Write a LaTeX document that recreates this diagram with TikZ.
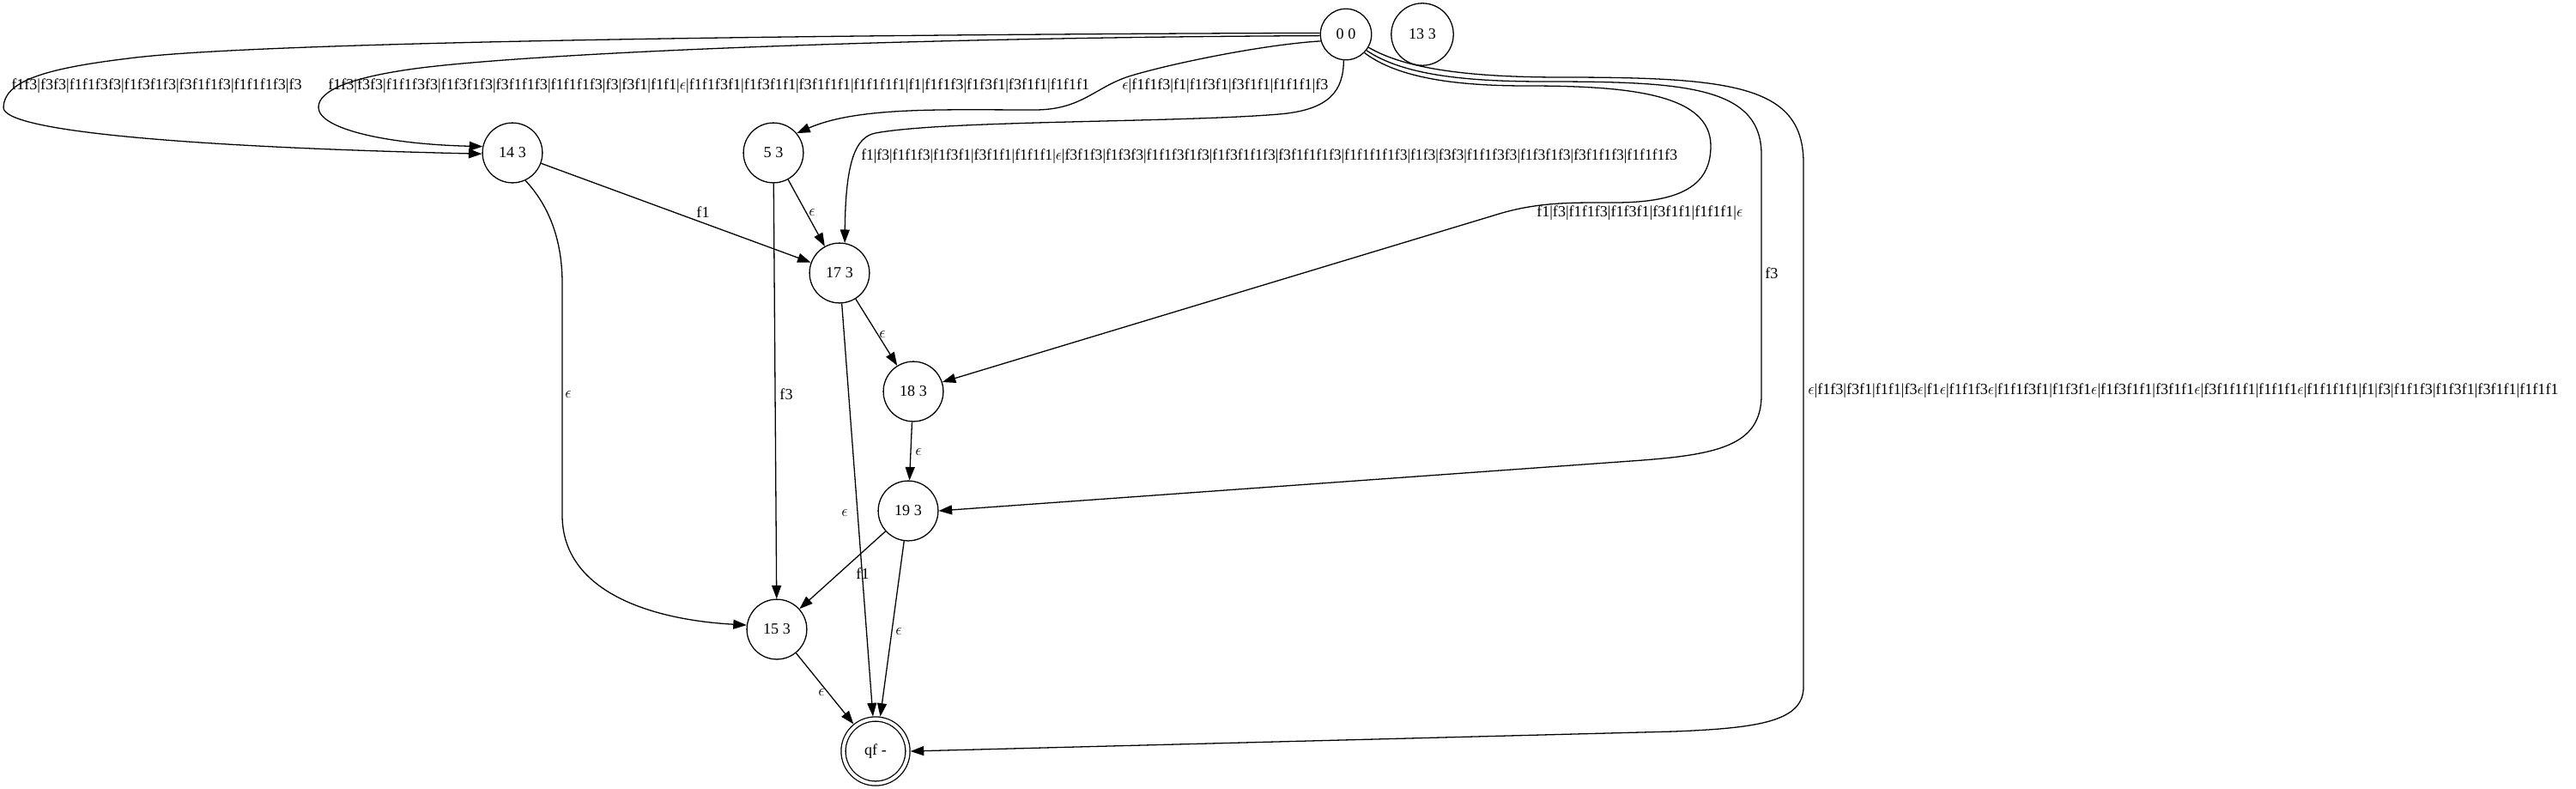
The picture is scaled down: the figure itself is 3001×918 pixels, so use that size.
\documentclass[tikz,border=0pt]{standalone}
\usepackage{fontspec}
\setmainfont{Liberation Serif}
\usetikzlibrary{arrows.meta,positioning}
\newcommand{\epsl}{\ensuremath{\epsilon}}
\tikzset{
  state/.style={circle, draw, line width=1pt, minimum size=54pt, inner sep=0pt},
  final/.style={state, double, double distance=3pt, minimum size=58pt, outer sep=2.5pt},
  edge/.style={-{Triangle[length=12pt,width=8.5pt]}, line width=1pt},
  lbl/.style={inner sep=0pt},
}
\begin{document}
\begin{tikzpicture}[x=0.7734pt, y=-0.7734pt, font=\fontsize{14}{17}\selectfont]
  \useasboundingbox (0,0) rectangle (3001,918);
  % states
  \node[state, minimum size=46pt] (n00) at (1568,40) {0 0};
  \node[state, minimum size=56pt] (n133) at (1657,40) {13 3};
  \node[state] (n143) at (597,178) {14 3};
  \node[state] (n53) at (901,178) {5 3};
  \node[state] (n173) at (978,318) {17 3};
  \node[state] (n183) at (1064,456) {18 3};
  \node[state] (n193) at (1058,595) {19 3};
  \node[state] (n153) at (905,733) {15 3};
  \node[final] (nqf) at (1020,875) {qf -};

  % long edges out of 0 0
  \draw[edge] (n00.177) .. controls (1000,40) and (300,48) .. (150,68)
    .. controls (50,80) and (5,95) .. (4,125)
    .. controls (3,155) and (250,172) .. (n143.182);
  \draw[edge] (n00.183) .. controls (1000,44) and (600,64) .. (483,80)
    .. controls (410,90) and (371,105) .. (371,125)
    .. controls (371,150) and (450,168) .. (n143.168);
  \draw[edge] (n00.195) .. controls (1470,52) and (1360,75) .. (1315,89)
    .. controls (1275,102) and (1260,128) .. (1205,128)
    .. controls (1100,128) and (1000,124) .. (n53.40);
  \draw[edge] (n00.265) .. controls (1565,105) and (1550,128) .. (1490,133)
    .. controls (1370,143) and (1100,140) .. (1020,155)
    .. controls (996,159.5) and (985,190) .. (n173.80);
  \draw[edge] (n00.315) .. controls (1630,92) and (1700,100) .. (1780,100)
    .. controls (1900,100) and (1993,110) .. (1993,170)
    .. controls (1993,215) and (1960,236) .. (1880,236)
    .. controls (1830,236) and (1790,235) .. (1740,251) -- (n183.18);
  \draw[edge] (n00.322) .. controls (1635,88) and (1710,95) .. (1800,95)
    .. controls (1960,95) and (2052,100) .. (2052,180) -- (2052,460)
    .. controls (2052,520) and (2000,530) .. (1900,537) -- (n193.east);
  \draw[edge] (n00.330) .. controls (1640,82) and (1720,90) .. (1820,90)
    .. controls (2020,90) and (2101,100) .. (2101,190) -- (2101,800)
    .. controls (2101,840) and (2050,848) .. (1950,852) -- (nqf.east);

  % short edges
  \draw[edge] (n143) -- (n173);
  \draw[edge] (n53) -- (n173);
  \draw[edge] (n173) -- (n183);
  \draw[edge] (n183) -- (n193);
  \draw[edge] (n143.295) .. controls (640,240) and (655,280) .. (655,330) -- (655,600)
    .. controls (655,690) and (760,722) .. (n153.172);
  \draw[edge] (n53) -- (n153);
  \draw[edge] (n173) -- (nqf);
  \draw[edge] (n193) -- (n153);
  \draw[edge] (n193) -- (nqf);
  \draw[edge] (n153) -- (nqf);

  % labels
  \node[lbl, anchor=west] (t1) at (13,100) {f1f3|f3f3|f1f1f3f3|f1f3f1f3|f3f1f1f3|f1f1f1f3|f3};
  \node[lbl, anchor=west] (t2) at (382,100) {f1f3|f3f3|f1f1f3f3|f1f3f1f3|f3f1f1f3|f1f1f1f3|f3|f3f1|f1f1|\epsl|f1f1f3f1|f1f3f1f1|f3f1f1f1|f1f1f1f1|f1|f1f1f3|f1f3f1|f3f1f1|f1f1f1};
  \node[lbl, anchor=west] (t3) at (1307,100) {\epsl|f1f1f3|f1|f1f3f1|f3f1f1|f1f1f1|f3};
  \node[lbl, anchor=west, xscale=0.973, transform shape] (t4) at (1003,182) {f1|f3|f1f1f3|f1f3f1|f3f1f1|f1f1f1|\epsl|f3f1f3|f1f3f3|f1f1f3f1f3|f1f3f1f1f3|f3f1f1f1f3|f1f1f1f1f3|f1f3|f3f3|f1f1f3f3|f1f3f1f3|f3f1f1f3|f1f1f1f3};
  \node[lbl, anchor=west] (t5) at (1790,248) {f1|f3|f1f1f3|f1f3f1|f3f1f1|f1f1f1|\epsl};
  \node[lbl, anchor=west] (t6) at (2056,318) {f3};
  \node[lbl, anchor=west] (t7) at (2106,455) {\epsl|f1f3|f3f1|f1f1|f3\epsl|f1\epsl|f1f1f3\epsl|f1f1f3f1|f1f3f1\epsl|f1f3f1f1|f3f1f1\epsl|f3f1f1f1|f1f1f1\epsl|f1f1f1f1|f1|f3|f1f1f3|f1f3f1|f3f1f1|f1f1f1};
  \node[lbl] (t8) at (819,247) {f1};
  \node[lbl] (t9) at (946,247) {\epsl};
  \node[lbl] (t10) at (1028,389) {\epsl};
  \node[lbl] (t11) at (1070,526) {\epsl};
  \node[lbl] (t12) at (662,459) {\epsl};
  \node[lbl] (t13) at (916,459) {f3};
  \node[lbl] (t14) at (984,597) {\epsl};
  \node[lbl] (t15) at (1005,668) {f1};
  \node[lbl] (t16) at (1047,735) {\epsl};
  \node[lbl] (t17) at (957,806) {\epsl};
\end{tikzpicture}
\end{document}
